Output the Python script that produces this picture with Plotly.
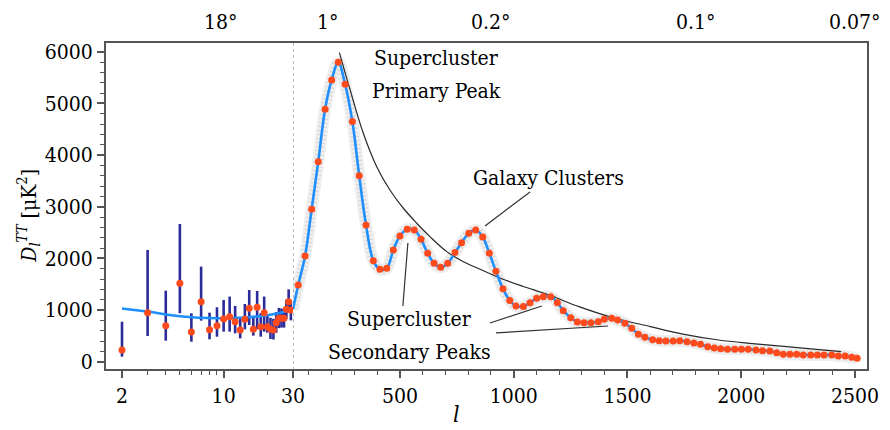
import math
import plotly.graph_objects as go

# ---------------- data ----------------
# low-l (2..29) measurements with asymmetric error bars
l_low = [2, 3, 4, 5, 6, 7, 8, 9, 10, 11, 12, 13, 14, 15, 16, 17, 18, 19, 20,
         21, 22, 23, 24, 25, 26, 27, 28, 29]
D_low = [227, 949, 697, 1518, 575, 1162, 620, 697, 827, 871, 775, 614, 821, 1033,
         627, 1053, 678, 949, 678, 627, 614, 755, 840, 840, 840, 1014, 1162, 1001]
D_low_top = [774, 2163, 1375, 2666, 937, 1840, 949, 1053, 1195, 1260, 1079, 840,
             1117, 1388, 885, 1369, 937, 1260, 885, 850, 830, 960, 1040, 1030,
             1020, 1200, 1400, 1170]
D_low_bot = [97, 497, 407, 937, 387, 794, 433, 484, 581, 581, 549, 452, 627, 710,
             504, 627, 484, 581, 562, 440, 430, 560, 650, 660, 660, 830, 1000, 800]

# best-fit curve, low-l part
fit_low_l = [2, 3, 5, 9, 15, 20, 25, 30]
fit_low_D = [1030, 970, 880, 840, 860, 900, 950, 1020]

# binned high-l measurements
l_bin = [53, 83, 112, 141, 171, 200, 229, 259, 291, 321, 351, 383, 412, 442, 471,
         500, 532, 563, 593, 622, 650, 679, 710, 742, 771, 803, 833, 864, 893, 922,
         953, 983, 1010, 1043, 1072, 1101, 1130, 1163, 1192, 1218, 1251, 1280, 1309,
         1340, 1372, 1398, 1431, 1457, 1489, 1519, 1548, 1577, 1611, 1640, 1669,
         1701, 1730, 1762, 1792, 1821, 1853, 1882, 1910, 1940, 1972, 2001, 2031,
         2065, 2094, 2126, 2156, 2185, 2215, 2244, 2273, 2306, 2335, 2364, 2398,
         2427, 2457, 2486, 2510]
D_bin = [1485, 2046, 2950, 3872, 4887, 5454, 5797, 5370, 4647, 3601, 2647, 1956,
         1789, 1808, 2163, 2434, 2563, 2550, 2370, 2099, 1905, 1828, 1905, 2111,
         2304, 2486, 2550, 2414, 2099, 1750, 1410, 1185, 1078, 1070, 1143, 1227,
         1259, 1259, 1143, 988, 852, 769, 755, 755, 774, 820, 840, 807, 743, 646,
         530, 472, 425, 407, 402, 402, 407, 388, 360, 337, 291, 266, 252, 243, 240,
         240, 240, 227, 214, 207, 175, 142, 142, 142, 130, 130, 130, 130, 130, 110,
         110, 84, 65]

# best-fit curve, high-l part starts at the junction l = 30
fit_hi_start_l = [30]
fit_hi_start_D = [1020]

# envelope curve
l_env = [234, 281, 339, 398, 456, 515, 574, 632, 706, 779, 852, 940, 1040, 1150,
         1290, 1430, 1600, 1750, 1900, 2050, 2200, 2330, 2440]
D_env = [5983, 5260, 4422, 3775, 3324, 2970, 2680, 2420, 2130, 1936, 1790, 1620,
         1460, 1300, 1060, 860, 680, 530, 420, 350, 290, 240, 195]

# axis ticks
low_tickvals = [2, 10]
low_minor = [3, 4, 5, 6, 7, 8, 9, 20]
hi_tickvals = [30, 500, 1000, 1500, 2000, 2500]
y_tickvals = [0, 1000, 2000, 3000, 4000, 5000, 6000]

# top angular scale labels (multipole, label)
ang_low = [(10, "18°")]
ang_hi = [(180, "1°"), (900, "0.2°"), (1800, "0.1°"), (2500, "0.07°")]

# text labels (multipole, D, text)
labels = [
    (659, 5880, "Supercluster"),
    (659, 5242, "Primary Peak"),
    (1155, 3557, "Galaxy Clusters"),
    (540, 829, "Supercluster"),
    (544, 188, "Secondary Peaks"),
]
# leader lines (l0, D0, l1, D1)
leaders = [
    (1072, 3286, 874, 2627),
    (513, 1078, 535, 2298),
    (896, 749, 1124, 1078),
    (922, 556, 1415, 691),
]

# ---------------- styling ----------------
FONT = "DejaVu Serif Condensed, DejaVu Serif, serif"
FS = 21
RED = "#FF4A1C"
BLUE = "#1E8FFF"
NAVY = "#2B2B99"
FRAME = "#555555"
SPLIT = 0.2464

fit_hi_l = fit_hi_start_l + l_bin
fit_hi_D = fit_hi_start_D + D_bin

fig = go.Figure()

# grey halo (scatter of unbinned data) around the curve
fig.add_trace(go.Scatter(x=fit_hi_l, y=fit_hi_D, xaxis="x2", yaxis="y",
                         mode="lines", line=dict(color="rgba(190,190,190,0.25)",
                                                  width=12, shape="spline"),
                         hoverinfo="skip"))
fig.add_trace(go.Scatter(x=fit_hi_l, y=fit_hi_D, xaxis="x2", yaxis="y",
                         mode="lines", line=dict(color="rgba(165,165,165,0.35)",
                                                  width=9, shape="spline", dash="1px,3px"),
                         hoverinfo="skip"))

# envelope
fig.add_trace(go.Scatter(x=l_env, y=D_env, xaxis="x2", yaxis="y", mode="lines",
                         line=dict(color="#2a2a2a", width=1.2, shape="spline")))

# low-l error bars
err_plus = [t - d for t, d in zip(D_low_top, D_low)]
err_minus = [d - b for d, b in zip(D_low, D_low_bot)]
fig.add_trace(go.Scatter(x=l_low, y=D_low, xaxis="x", yaxis="y", mode="markers",
                         marker=dict(size=1, color="rgba(0,0,0,0)"),
                         error_y=dict(type="data", symmetric=False, array=err_plus,
                                      arrayminus=err_minus, color=NAVY,
                                      thickness=2.6, width=0)))

# best-fit curve
fig.add_trace(go.Scatter(x=fit_low_l, y=fit_low_D, xaxis="x", yaxis="y",
                         mode="lines", line=dict(color=BLUE, width=2.6, shape="spline")))
fig.add_trace(go.Scatter(x=fit_hi_l, y=fit_hi_D, xaxis="x2", yaxis="y",
                         mode="lines", line=dict(color=BLUE, width=2.6, shape="spline")))

# data points
fig.add_trace(go.Scatter(x=l_low, y=D_low, xaxis="x", yaxis="y", mode="markers",
                         marker=dict(size=7, color=RED)))
fig.add_trace(go.Scatter(x=l_bin, y=D_bin, xaxis="x2", yaxis="y", mode="markers",
                         marker=dict(size=7, color=RED)))

tickfont = dict(family=FONT, size=FS, color="black")

annos = []
for lv, txt in ang_low:
    annos.append(dict(x=math.log10(lv), y=1.0, xref="x", yref="paper",
                      text=txt, showarrow=False, yanchor="bottom", xanchor="center",
                      yshift=6, xshift=-3, font=tickfont))
for lv, txt in ang_hi:
    annos.append(dict(x=lv, y=1.0, xref="x2", yref="paper", text=txt,
                      showarrow=False, yanchor="bottom", xanchor="center", yshift=6,
                      font=tickfont))

for lx, ly, txt in labels:
    annos.append(dict(x=lx, y=ly, xref="x2", yref="y", text=txt,
                      xanchor="center", showarrow=False, font=tickfont))

# axis titles
annos.append(dict(
    x=-0.101, y=0.47, xref="paper", yref="paper", textangle=-90, showarrow=False,
    xanchor="center", yanchor="middle",
    text="<i>D</i><sub><i>l</i></sub><sup><i>TT</i></sup> [μK<sup>2</sup>]",
    font=tickfont))
annos.append(dict(
    x=0.461, y=-0.135, xref="paper", yref="paper", showarrow=False,
    xanchor="center", yanchor="middle",
    text="<i>l</i>", font=dict(family=FONT, size=FS + 2, color="black")))

shapes = []
for x0, y0, x1, y1 in leaders:
    shapes.append(dict(type="line", xref="x2", yref="y", x0=x0, y0=y0, x1=x1, y1=y1,
                       line=dict(color="#333333", width=1.2)))
# dotted separator at l = 30
shapes.append(dict(type="line", xref="x2", yref="paper", x0=30, x1=30, y0=0, y1=1,
                   line=dict(color="#aaaaaa", width=1.5, dash="dot"), layer="below"))
# frame
shapes.append(dict(type="rect", xref="paper", yref="paper", x0=0, x1=1, y0=0, y1=1,
                   line=dict(color=FRAME, width=2)))

fig.update_layout(
    width=890, height=430,
    margin=dict(l=105, r=22, t=42, b=60),
    plot_bgcolor="white", paper_bgcolor="white",
    showlegend=False,
    font=dict(family=FONT, size=FS, color="black"),
    xaxis=dict(type="log", domain=[0, SPLIT],
               range=[math.log10(2) - 17 / 145.4, math.log10(30)],
               tickvals=low_tickvals, ticktext=[str(v) for v in low_tickvals],
               ticks="outside", ticklen=7, tickwidth=1.5, tickcolor=FRAME,
               minor=dict(tickvals=low_minor, ticks="outside", ticklen=4,
                          tickwidth=1.2, tickcolor=FRAME),
               showgrid=False, zeroline=False, showline=False,
               tickfont=tickfont, anchor="y"),
    xaxis2=dict(type="linear", domain=[SPLIT, 1], range=[30, 2557.5],
                tickvals=hi_tickvals, ticktext=[str(v) for v in hi_tickvals],
                ticks="outside", ticklen=7, tickwidth=1.5, tickcolor=FRAME,
                minor=dict(dtick=100, tick0=0, ticks="outside", ticklen=4,
                           tickwidth=1.2, tickcolor=FRAME),
                showgrid=False, zeroline=False, showline=False,
                tickfont=tickfont, anchor="y"),
    yaxis=dict(range=[-161, 6188], tickvals=y_tickvals,
               ticks="outside", ticklen=7, tickwidth=1.5, tickcolor=FRAME,
               minor=dict(dtick=200, ticks="outside", ticklen=4, tickwidth=1.2,
                          tickcolor=FRAME),
               showgrid=False, zeroline=False, showline=False,
               tickfont=tickfont, anchor="x"),
    annotations=annos,
    shapes=shapes,
)

fig.write_html("out.html")
